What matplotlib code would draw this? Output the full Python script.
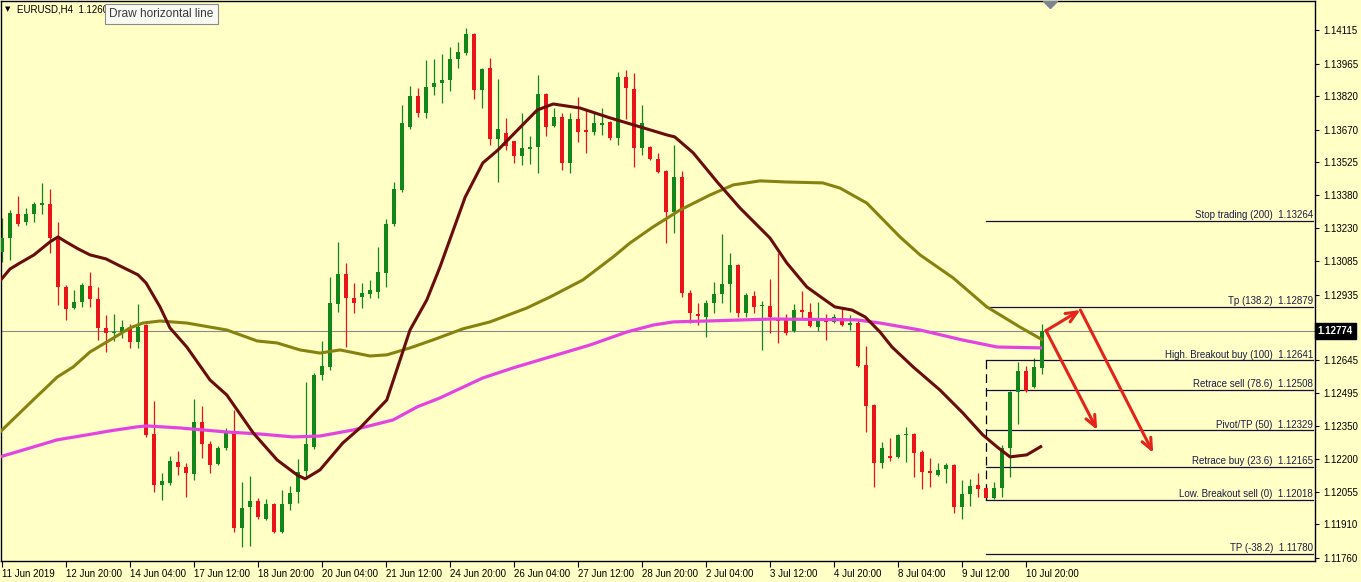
import matplotlib
matplotlib.use("Agg")
from matplotlib import pyplot as plt
from matplotlib.transforms import blended_transform_factory
import numpy as np

plt.rcParams["font.family"] = ["Liberation Sans", "DejaVu Sans"]

BG = "#FFFFC6"
UP = "#13861A"
DOWN = "#E8141A"

# H4 candles, EURUSD (open, close, high, low), oldest first
opens = [1.13125, 1.13187, 1.13295, 1.13259, 1.13295, 1.13335, 1.13339, 1.13187, 1.12969, 1.12875,
         1.12902, 1.12973, 1.12915, 1.12786, 1.12764, 1.12768, 1.12782, 1.12724, 1.12800, 1.12313,
         1.12086, 1.12095, 1.12188, 1.12166, 1.12135, 1.12367, 1.12269, 1.12180, 1.12251, 1.12322,
         1.11894, 1.11988, 1.12014, 1.11934, 1.12001, 1.11876, 1.12001, 1.12055, 1.12148, 1.12255,
         1.12576, 1.12612, 1.12893, 1.13027, 1.12920, 1.12924, 1.12938, 1.12947, 1.13031, 1.13250,
         1.13402, 1.13683, 1.13821, 1.13745, 1.13861, 1.13879, 1.13892, 1.13986, 1.14013, 1.14097,
         1.13848, 1.13946, 1.13629, 1.13656, 1.13620, 1.13553, 1.13584, 1.13593, 1.13830, 1.13687,
         1.13727, 1.13522, 1.13718, 1.13669, 1.13660, 1.13691, 1.13705, 1.13633, 1.13906, 1.13852,
         1.13589, 1.13593, 1.13540, 1.13486, 1.13303, 1.13460, 1.12942, 1.12849, 1.12835, 1.12898,
         1.12938, 1.12982, 1.13067, 1.12853, 1.12929, 1.12884, 1.12884, 1.12822, 1.12822, 1.12773,
         1.12866, 1.12857, 1.12791, 1.12822, 1.12813, 1.12831, 1.12800, 1.12808, 1.12621, 1.12443,
         1.12184, 1.12215, 1.12211, 1.12309, 1.12313, 1.12233, 1.12148, 1.12130, 1.12157, 1.12175,
         1.11988, 1.12046, 1.12086, 1.12072, 1.12028, 1.12072, 1.12251, 1.12501, 1.12594, 1.12523,
         1.12608]
closes = [1.13187, 1.13299, 1.13250, 1.13295, 1.13339, 1.13344, 1.13187, 1.12969, 1.12871, 1.12902,
          1.12978, 1.12915, 1.12786, 1.12764, 1.12768, 1.12791, 1.12724, 1.12791, 1.12309, 1.12086,
          1.12104, 1.12193, 1.12166, 1.12139, 1.12367, 1.12269, 1.12175, 1.12251, 1.12322, 1.11894,
          1.11983, 1.12014, 1.11943, 1.12001, 1.11876, 1.12001, 1.12050, 1.12144, 1.12269, 1.12576,
          1.12617, 1.12898, 1.13027, 1.12920, 1.12898, 1.12942, 1.12956, 1.13036, 1.13250, 1.13406,
          1.13700, 1.13821, 1.13745, 1.13861, 1.13879, 1.13892, 1.13986, 1.14017, 1.14097, 1.13848,
          1.13941, 1.13629, 1.13674, 1.13598, 1.13553, 1.13589, 1.13593, 1.13830, 1.13683, 1.13727,
          1.13522, 1.13718, 1.13660, 1.13660, 1.13700, 1.13700, 1.13633, 1.13906, 1.13856, 1.13589,
          1.13700, 1.13540, 1.13482, 1.13303, 1.13460, 1.12942, 1.12853, 1.12840, 1.12898, 1.12938,
          1.12982, 1.13067, 1.12853, 1.12933, 1.12880, 1.12889, 1.12835, 1.12817, 1.12764, 1.12866,
          1.12857, 1.12795, 1.12826, 1.12813, 1.12835, 1.12800, 1.12808, 1.12617, 1.12438, 1.12184,
          1.12251, 1.12206, 1.12309, 1.12313, 1.12229, 1.12144, 1.12139, 1.12153, 1.12175, 1.11988,
          1.12046, 1.12081, 1.12068, 1.12028, 1.12072, 1.12251, 1.12501, 1.12594, 1.12505, 1.12612,
          1.12774]
highs = [1.13277, 1.13312, 1.13375, 1.13321, 1.13348, 1.13433, 1.13406, 1.13259, 1.12978, 1.12956,
         1.12987, 1.13036, 1.12969, 1.12844, 1.12849, 1.12822, 1.12804, 1.12893, 1.12804, 1.12460,
         1.12139, 1.12215, 1.12237, 1.12184, 1.12469, 1.12438, 1.12282, 1.12260, 1.12340, 1.12420,
         1.12099, 1.12126, 1.12028, 1.12023, 1.12006, 1.12064, 1.12081, 1.12202, 1.12545, 1.12585,
         1.12728, 1.13014, 1.13170, 1.13076, 1.12987, 1.12987, 1.13000, 1.13147, 1.13272, 1.13437,
         1.13781, 1.13865, 1.13856, 1.13981, 1.13986, 1.14008, 1.14039, 1.14062, 1.14124, 1.14102,
         1.13946, 1.13990, 1.13897, 1.13723, 1.13620, 1.13745, 1.13642, 1.13914, 1.13834, 1.13767,
         1.13745, 1.13745, 1.13816, 1.13758, 1.13745, 1.13767, 1.13709, 1.13928, 1.13937, 1.13923,
         1.13781, 1.13598, 1.13567, 1.13491, 1.13602, 1.13486, 1.12956, 1.12898, 1.12911, 1.12991,
         1.13205, 1.13121, 1.13072, 1.12942, 1.12951, 1.12907, 1.13005, 1.13121, 1.12849, 1.12893,
         1.12951, 1.12898, 1.12902, 1.12849, 1.12849, 1.12875, 1.12844, 1.12822, 1.12706, 1.12447,
         1.12278, 1.12295, 1.12313, 1.12345, 1.12318, 1.12242, 1.12206, 1.12184, 1.12184, 1.12180,
         1.12108, 1.12113, 1.12139, 1.12077, 1.12099, 1.12264, 1.12505, 1.12634, 1.12617, 1.12652,
         1.12804]
lows = [1.13080, 1.13089, 1.13241, 1.13245, 1.13259, 1.13295, 1.13121, 1.12889, 1.12822, 1.12871,
        1.12880, 1.12880, 1.12733, 1.12679, 1.12728, 1.12741, 1.12697, 1.12697, 1.12300, 1.12055,
        1.12019, 1.12086, 1.12130, 1.12032, 1.12108, 1.12206, 1.12139, 1.12175, 1.12242, 1.11876,
        1.11809, 1.11814, 1.11934, 1.11930, 1.11872, 1.11872, 1.11974, 1.12006, 1.12122, 1.12246,
        1.12554, 1.12599, 1.12857, 1.12701, 1.12853, 1.12875, 1.12920, 1.12920, 1.12969, 1.13241,
        1.13393, 1.13674, 1.13727, 1.13723, 1.13825, 1.13790, 1.13843, 1.13946, 1.14004, 1.13807,
        1.13767, 1.13602, 1.13437, 1.13580, 1.13522, 1.13513, 1.13518, 1.13477, 1.13642, 1.13683,
        1.13491, 1.13477, 1.13616, 1.13567, 1.13647, 1.13647, 1.13625, 1.13602, 1.13718, 1.13504,
        1.13558, 1.13535, 1.13477, 1.13165, 1.13210, 1.12924, 1.12808, 1.12800, 1.12746, 1.12853,
        1.12898, 1.12857, 1.12835, 1.12835, 1.12853, 1.12688, 1.12764, 1.12719, 1.12755, 1.12768,
        1.12822, 1.12791, 1.12773, 1.12733, 1.12808, 1.12795, 1.12777, 1.12612, 1.12322, 1.12077,
        1.12162, 1.12193, 1.12206, 1.12188, 1.12122, 1.12068, 1.12077, 1.12126, 1.12095, 1.11961,
        1.11934, 1.11992, 1.12032, 1.12023, 1.12023, 1.12032, 1.12122, 1.12358, 1.12501, 1.12518,
        1.12581]

# moving averages (bar index, price)
ma_fast_bar = [-0.25, 1, 2.25, 4, 6, 7, 8, 9.5, 11, 13, 14.5, 17, 18, 19.75, 21, 23.1, 26, 28.1,
               31.4, 34.4, 36.9, 37.9, 39.75, 42.6, 44.75, 48.1, 51, 53.1, 54.75, 57.9, 60.1, 62,
               66.9, 68.9, 72.25, 76, 79.75, 83.1, 84.1, 86.4, 89.4, 92.25, 96, 98.1, 100.6, 102,
               104.1, 106.25, 107.9, 109.75, 111.25, 113.9, 117.25, 120.1, 122.6, 124.4, 126, 128.1, 130]
ma_fast = [1.12996, 1.13049, 1.13076, 1.13112, 1.13170, 1.13192, 1.13170, 1.13139, 1.13112, 1.13094,
           1.13067, 1.13023, 1.12987, 1.12880, 1.12786, 1.12701, 1.12554, 1.12487, 1.12318, 1.12197,
           1.12130, 1.12113, 1.12153, 1.12273, 1.12340, 1.12465, 1.12777, 1.12911, 1.13058, 1.13370,
           1.13522, 1.13580, 1.13758, 1.13785, 1.13767, 1.13723, 1.13683, 1.13647, 1.13638, 1.13567,
           1.13437, 1.13321, 1.13187, 1.13076, 1.12969, 1.12933, 1.12880, 1.12866, 1.12835, 1.12768,
           1.12701, 1.12612, 1.12509, 1.12407, 1.12309, 1.12255, 1.12211, 1.12220, 1.12260]

ma_mid_bar = [-0.25, 3.9, 6.9, 8.9, 11, 13.5, 16, 17.6, 19.75, 23.1, 28.1, 31.9, 34.4, 37.25, 39.75,
              42.25, 46, 48.1, 51, 53.9, 57.6, 61, 65.6, 68.5, 72.6, 76.4, 78.5, 81.4, 84.75, 88.5,
              91.4, 94.75, 98.1, 102.6, 104.75, 108.1, 112.25, 114.75, 118.9, 123.1, 127.25, 130.1]
ma_mid = [1.12322, 1.12465, 1.12567, 1.12612, 1.12679, 1.12732, 1.12786, 1.12808, 1.12817, 1.12808,
          1.12777, 1.12728, 1.12719, 1.12688, 1.12674, 1.12688, 1.12661, 1.12666, 1.12697, 1.12733,
          1.12782, 1.12813, 1.12875, 1.12924, 1.13000, 1.13103, 1.13165, 1.13237, 1.13312, 1.13379,
          1.13424, 1.13442, 1.13437, 1.13433, 1.13410, 1.13343, 1.13192, 1.13112, 1.13009, 1.12880,
          1.12790, 1.12732]

ma_slow_bar = [-0.25, 3.9, 6.9, 10.6, 13.5, 16.9, 18.1, 22.25, 28.1, 32.25, 36.4, 39.75, 43.9, 48.9,
               51.9, 54.75, 60.1, 63.9, 68.5, 73.5, 78.1, 81.4, 83.9, 88.1, 96.4, 106.9, 109.75,
               114.75, 120.1, 124.4, 130]
ma_slow = [1.12211, 1.12255, 1.12287, 1.12309, 1.12327, 1.12345, 1.12349, 1.12340, 1.12322, 1.12313,
           1.12300, 1.12304, 1.12331, 1.12376, 1.12434, 1.12474, 1.12563, 1.12608, 1.12657, 1.12710,
           1.12768, 1.12799, 1.12813, 1.12817, 1.12826, 1.12822, 1.12808, 1.12777, 1.12732, 1.12701,
           1.12697]

# pivot / breakout levels
level_names = ["Stop trading (200)", "Tp (138.2)", "High. Breakout buy (100)", "Retrace sell (78.6)",
               "Pivot/TP (50)", "Retrace buy (23.6)", "Low. Breakout sell (0)", "TP (-38.2)"]
level_values = [1.13264, 1.12879, 1.12641, 1.12508, 1.12329, 1.12165, 1.12018, 1.11780]
level_start_bar = 123

current_price = 1.12774

price_ticks = [1.14115, 1.13965, 1.13820, 1.13670, 1.13525, 1.13380, 1.13230, 1.13085, 1.12935,
               1.12790, 1.12645, 1.12495, 1.12350, 1.12200, 1.12055, 1.11910, 1.11760]
date_labels = ["11 Jun 2019", "12 Jun 20:00", "14 Jun 04:00", "17 Jun 12:00", "18 Jun 20:00",
               "20 Jun 04:00", "21 Jun 12:00", "24 Jun 20:00", "26 Jun 04:00", "27 Jun 12:00",
               "28 Jun 20:00", "2 Jul 04:00", "3 Jul 12:00", "4 Jul 20:00", "8 Jul 04:00",
               "9 Jul 12:00", "10 Jul 20:00"]

# projected moves (bar index, price)
arrows = [((130.5, 1.12774), (134.8, 1.12866)),
          ((134.8, 1.12866), (143.9, 1.12229)),
          ((130.5, 1.12774), (136.9, 1.12331))]


fig = plt.figure(figsize=(13.61, 5.82), dpi=100, facecolor=BG)
ax = fig.add_axes([1 / 1361, 21 / 582, 1314 / 1361, 560 / 582], facecolor=BG)

opens = np.array(opens)
closes = np.array(closes)
highs = np.array(highs)
lows = np.array(lows)
idx = np.arange(len(opens))
colors = np.where(closes >= opens, UP, DOWN)

ax.vlines(idx, lows, highs, colors=colors, linewidth=0.9, zorder=2)
body_low = np.minimum(opens, closes)
body_h = np.maximum(np.abs(closes - opens), 0.00004)
ax.bar(idx, body_h, bottom=body_low, width=0.62, color=colors, linewidth=0, zorder=3)

ax.plot(ma_slow_bar, ma_slow, color="#E543E0", lw=2.3, zorder=4, solid_capstyle="butt")
ax.plot(ma_mid_bar, ma_mid, color="#878210", lw=2.2, zorder=4, solid_capstyle="butt")
ax.plot(ma_fast_bar, ma_fast, color="#6A0C0C", lw=2.2, zorder=4, solid_capstyle="butt")

ax.axhline(current_price, color="#8a8a8a", lw=0.8, zorder=1)

right_bar = 163.9
for name, val in zip(level_names, level_values):
    ax.plot([level_start_bar, right_bar], [val, val], color="#10103a", lw=0.9, zorder=2)
    ax.text(right_bar, val + 0.00004, f"{name}  {val:.5f}", ha="right", va="bottom",
            fontsize=7, color="#1c1c48", zorder=5)
ax.plot([level_start_bar, level_start_bar], [level_values[2], level_values[6]],
        color="black", lw=0.9, ls=(0, (7, 4)), zorder=2)

for start, end in arrows:
    ax.annotate("", xy=end, xytext=start,
                arrowprops=dict(arrowstyle="->,head_length=0.8,head_width=0.35",
                                color="#E4231B", lw=2.2, shrinkA=0, shrinkB=0), zorder=6)

ax.set_xlim(-0.125, 164.125)
ax.set_ylim(1.117466, 1.142443)

# the 1.12790 label sits under the current price tag, so it stays blank
ax.yaxis.tick_right()
ax.set_yticks(price_ticks)
ax.set_yticklabels(["" if t == 1.12790 else f"{t:.5f}" for t in price_ticks])
ax.tick_params(axis="y", direction="out", length=3, width=0.8, pad=3, labelsize=7,
               colors="black")
ax.set_xticks(np.arange(0, 8 * len(date_labels), 8))
ax.set_xticklabels(date_labels, ha="left")
ax.tick_params(axis="x", direction="out", length=4, width=0.8, pad=2, labelsize=7,
               colors="black")
for sp in ax.spines.values():
    sp.set_color("black")
    sp.set_linewidth(1)

# current price tag on the scale
trans = blended_transform_factory(ax.transAxes, ax.transData)
ax.text(1.002, current_price, "1.12774", transform=trans, ha="left", va="center",
        fontsize=7, color="white", fontweight="bold", zorder=10,
        bbox=dict(boxstyle="square,pad=0.3", fc="black", ec="black"))

# chart shift marker
ax.plot([131], [1.142443], marker="D", color="#7C8593", ms=7, clip_on=True, zorder=7)

# header and tooltip
fig.text(5 / 1361, 1 - 9 / 582, "\u25BC", fontsize=5, color="black", va="center",
         family="DejaVu Sans")
fig.text(17 / 1361, 1 - 9 / 582, "EURUSD,H4  1.1260", fontsize=7, color="black", va="center")
fig.text(109 / 1361, 1 - 14 / 582, "Draw horizontal line", fontsize=8.6, color="#3a3a3a",
         va="center", zorder=20,
         bbox=dict(boxstyle="square,pad=0.35", fc="#FAFAF5", ec="#8a8a8a", lw=0.8))

fig.savefig("out.png", dpi=100, facecolor=BG)
